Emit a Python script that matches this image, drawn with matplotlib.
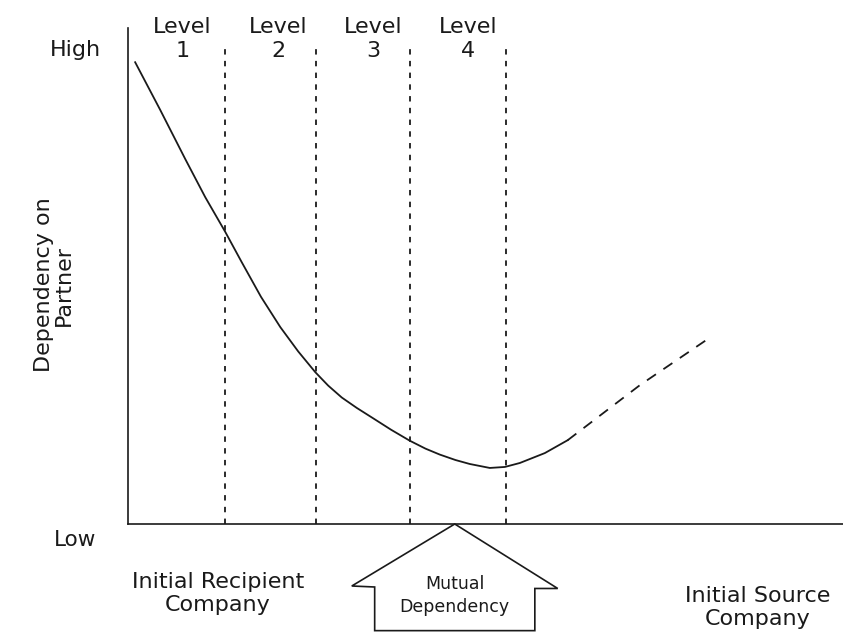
import matplotlib
matplotlib.use('Agg')
import matplotlib.pyplot as plt
from matplotlib.patches import Polygon

# conceptual diagram data (x: position between partners, y: dependency 0..10)
level_names = ['Level\n1', 'Level\n2', 'Level\n3', 'Level\n4']
level_text_x = [0.76, 2.1, 3.43, 4.76]
level_bounds = [1.36, 2.63, 3.95, 5.28]
curve_x = [0.10, 0.45, 0.80, 1.08, 1.36, 1.59, 1.86, 2.13, 2.38, 2.62, 2.80,
           2.99, 3.20, 3.43, 3.68, 3.94, 4.16, 4.36, 4.58, 4.78, 5.06, 5.27,
           5.48, 5.83, 6.15]
curve_y = [9.31, 8.35, 7.36, 6.59, 5.89, 5.28, 4.58, 3.97, 3.48, 3.06, 2.79,
           2.55, 2.34, 2.13, 1.90, 1.68, 1.52, 1.40, 1.29, 1.21, 1.13, 1.15,
           1.23, 1.43, 1.69]
ext_x = [6.15, 7.16, 8.13]
ext_y = [1.69, 2.80, 3.75]

ink = '#1a1a1a'
plt.rcParams['font.family'] = ['DejaVu Sans']

fig = plt.figure(figsize=(8.43, 6.39), dpi=100)
W, H = 843, 639
ax = fig.add_axes([128 / W, 1 - 524 / H, 1 - 128 / W, (524 - 28) / H])
ax.set_xlim(0, 10)
ax.set_ylim(0, 10)
for s in ['top', 'right']:
    ax.spines[s].set_visible(False)
for s in ['left', 'bottom']:
    ax.spines[s].set_linewidth(1.2)
    ax.spines[s].set_color(ink)
ax.set_xticks([]); ax.set_yticks([])

# level boundaries
for b in level_bounds:
    ax.plot([b, b], [0, 9.7], color=ink, lw=1.3, ls=(0, (3, 3.5)), clip_on=False)
for x, name in zip(level_text_x, level_names):
    ax.text(x, 9.78, name, ha='center', va='center', fontsize=16,
            linespacing=1.3, color=ink, clip_on=False)

# dependency curve
ax.plot(curve_x, curve_y, color=ink, lw=1.3, clip_on=False, solid_joinstyle='round')
ax.plot(ext_x, ext_y, color=ink, lw=1.3, ls=(0, (6, 5)), clip_on=False)

# axis end labels
ax.text(-0.38, 9.55, 'High', ha='right', va='center', fontsize=16, color=ink, clip_on=False)
ax.text(-0.44, -0.32, 'Low', ha='right', va='center', fontsize=15.5, color=ink, clip_on=False)
fig.text(54 / W, 1 - 285 / H, 'Dependency on\nPartner', rotation=90, ha='center',
         va='center', fontsize=16, linespacing=1.0, color=ink)

# bottom labels
ax.text(1.26, -1.4, 'Initial Recipient\nCompany', ha='center', va='center',
        fontsize=16, linespacing=1.15, color=ink, clip_on=False)
ax.text(8.8, -1.68, 'Initial Source\nCompany', ha='center', va='center',
        fontsize=16, linespacing=1.2, color=ink, clip_on=False)

# mutual dependency arrow
cx = 4.57
arrow = Polygon([(cx, 0), (cx + 1.44, -1.3), (cx + 1.12, -1.3), (cx + 1.12, -2.15),
                 (cx - 1.12, -2.15), (cx - 1.12, -1.27), (cx - 1.44, -1.25)],
                closed=True, fill=False, edgecolor=ink, lw=1.2, clip_on=False)
ax.add_patch(arrow)
ax.text(cx, -1.45, 'Mutual\nDependency', ha='center', va='center', fontsize=12.5,
        linespacing=1.35, color=ink, clip_on=False)

fig.savefig('out.png', dpi=100)
plt.close(fig)
